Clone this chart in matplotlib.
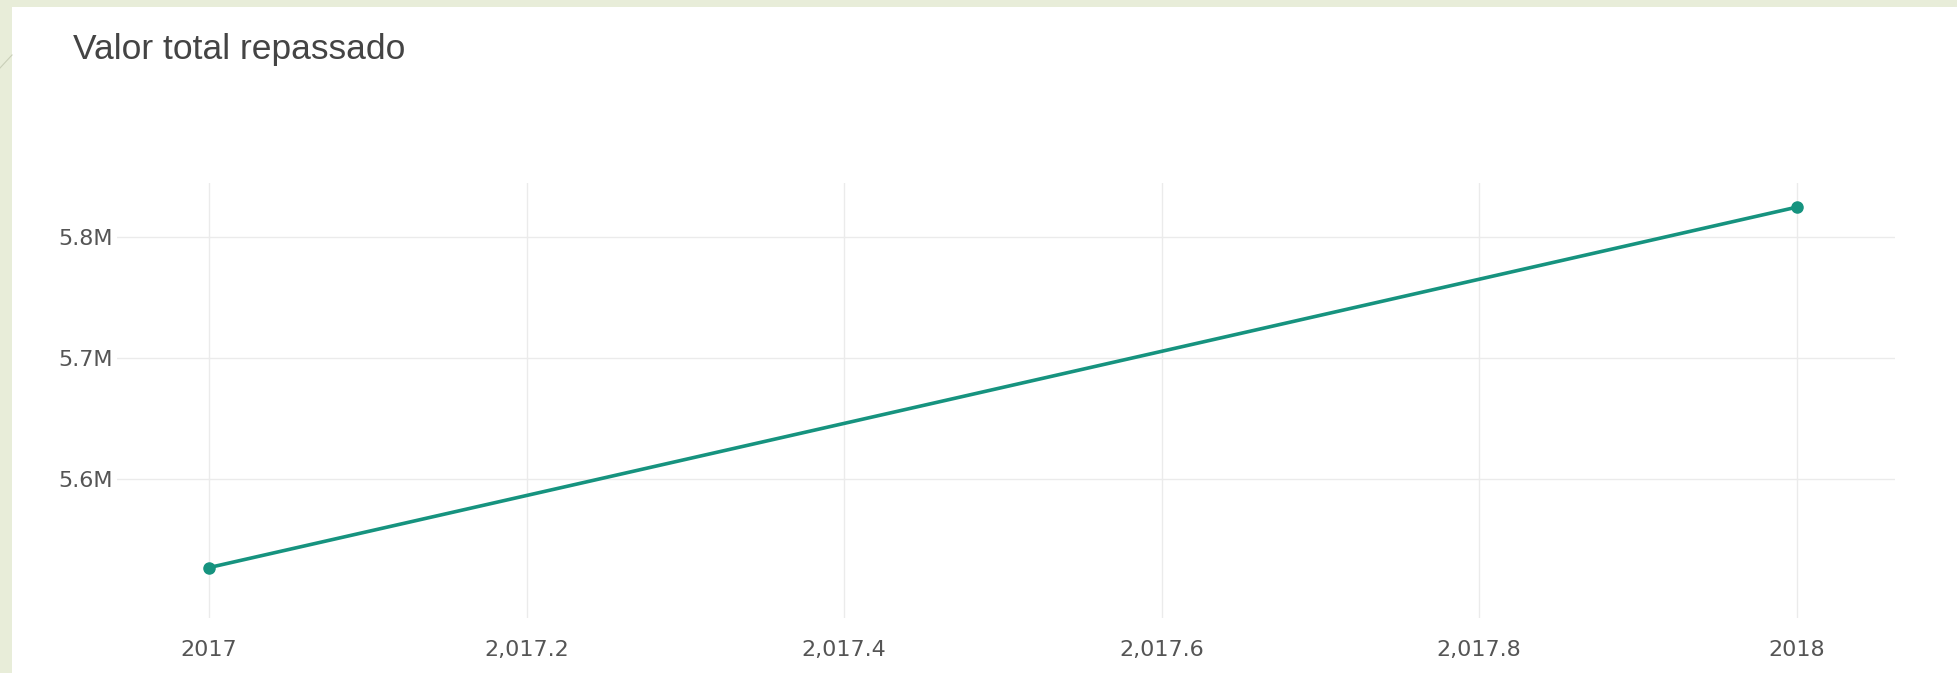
import matplotlib.pyplot as plt
from matplotlib.patches import Rectangle
from matplotlib.lines import Line2D

# Datos
anos = [2017, 2018]
valor_repassado = [5.527e6, 5.825e6]

xticks = [2017, 2017.2, 2017.4, 2017.6, 2017.8, 2018]
xtick_labels = ['2017', '2,017.2', '2,017.4', '2,017.6', '2,017.8', '2018']
yticks = [5.6e6, 5.7e6, 5.8e6]
ytick_labels = ['5.6M', '5.7M', '5.8M']

W, H = 1957, 673
fig = plt.figure(figsize=(W / 100, H / 100), dpi=100)
fig.patch.set_facecolor('#e8edd9')

# Painel branco (fundo do card)
fig.patches.append(Rectangle((12 / W, 0), 1 - 12 / W, 1 - 7 / H,
                             transform=fig.transFigure, facecolor='white',
                             edgecolor='none', zorder=-10))
fig.lines.append(Line2D([0, 12 / W], [1 - 68 / H, 1 - 55 / H],
                        transform=fig.transFigure, color='#c9cfb8', lw=0.8))

ax = fig.add_axes([117 / W, 1 - 618 / H, (1895 - 117) / W, (618 - 183) / H])
ax.set_facecolor('none')
ax.set_zorder(1)

ax.plot(anos, valor_repassado, color='#16937f', linewidth=2.6,
        marker='o', markersize=8, zorder=3)

ax.set_xlim(2016.942, 2018.062)
ax.set_ylim(5.4853e6, 5.845e6)
ax.set_xticks(xticks)
ax.set_xticklabels(xtick_labels)
ax.set_yticks(yticks)
ax.set_yticklabels(ytick_labels)

ax.grid(True, color='#ebebeb', linewidth=1.0)
for s in ax.spines.values():
    s.set_visible(False)
ax.tick_params(length=0, labelsize=16, labelcolor='#555555')
ax.tick_params(axis='x', pad=16)
ax.tick_params(axis='y', pad=3)

fig.text(73 / W, 1 - 59 / H, 'Valor total repassado', fontsize=25.5,
         color='#444444', va='baseline', ha='left',
         family=['Liberation Sans', 'DejaVu Sans'])

plt.savefig('out.png', dpi=100)
plt.close()
